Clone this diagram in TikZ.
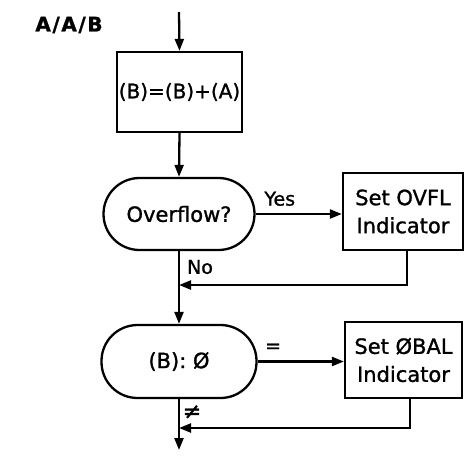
\documentclass[tikz,border=0pt]{standalone}
\usepackage{fontspec}
\setmainfont{DejaVu Sans}[FakeBold=1.2]
\usetikzlibrary{arrows.meta}
\begin{document}
\begin{tikzpicture}[x=1pt,y=-1pt,line width=2.3pt,
  proc/.style={draw,rectangle,align=center,inner sep=0pt},
  term/.style={draw,rectangle,rounded corners=36pt,inner sep=0pt,align=center},
  arr/.style={-{Triangle[length=12pt,width=9pt]}},
  lbl/.style={inner sep=0pt,font=\fontsize{19}{21}\selectfont},
  big/.style={font=\fontsize{21}{28}\selectfont}]
\useasboundingbox[fill=white] (0,0) rectangle (471,459);
\node[inner sep=0pt,font=\bfseries\fontsize{20}{22}\selectfont\addfontfeature{LetterSpace=8}] (title) at (69,25) {A/A/B};
\coordinate (top) at (179,12);
\node[proc,minimum width=125pt,minimum height=80pt,font=\fontsize{20}{24}\selectfont] (add) at (179.5,92) {(B)=(B)+(A)};
\node[term,big,minimum width=151pt,minimum height=72pt] (ovf) at (179,214) {Overflow?};
\node[proc,big,minimum width=120pt,minimum height=77pt] (setovfl) at (403,211.5) {Set OVFL\\Indicator};
\node[term,big,minimum width=155pt,minimum height=73pt] (cmp) at (179,361.5) {(B): Ø};
\node[proc,big,minimum width=117pt,minimum height=76pt] (setzbal) at (403.5,360) {Set ØBAL\\Indicator};
\coordinate (j1) at (179,285);
\coordinate (j2) at (179,428);
\coordinate (bot) at (179,450);
\coordinate (r1) at (407,285);
\coordinate (r2) at (410,428);
\draw[arr] (top) -- (add.north);
\draw[arr] (add.south) -- (ovf.north);
\draw[arr] (ovf.east) -- (ovf.east -| setovfl.west) node[lbl,pos=0.28,above=7pt] (yes) {Yes};
\draw[arr] (setovfl.south -| r1) -- (r1) -- (j1);
\draw[arr] (ovf.south) -- (cmp.north);
\node[lbl] (no) at (200,267) {No};
\draw[arr] (cmp.east) -- (cmp.east -| setzbal.west) node[lbl,pos=0.18,above=8pt] (eq) {=};
\draw[arr] (setzbal.south -| r2) -- (r2) -- (j2);
\draw[arr] (cmp.south) -- (bot);
\node[lbl,font=\fontsize{22}{24}\selectfont] (ne) at (192,412) {≠};
\end{tikzpicture}
\end{document}
